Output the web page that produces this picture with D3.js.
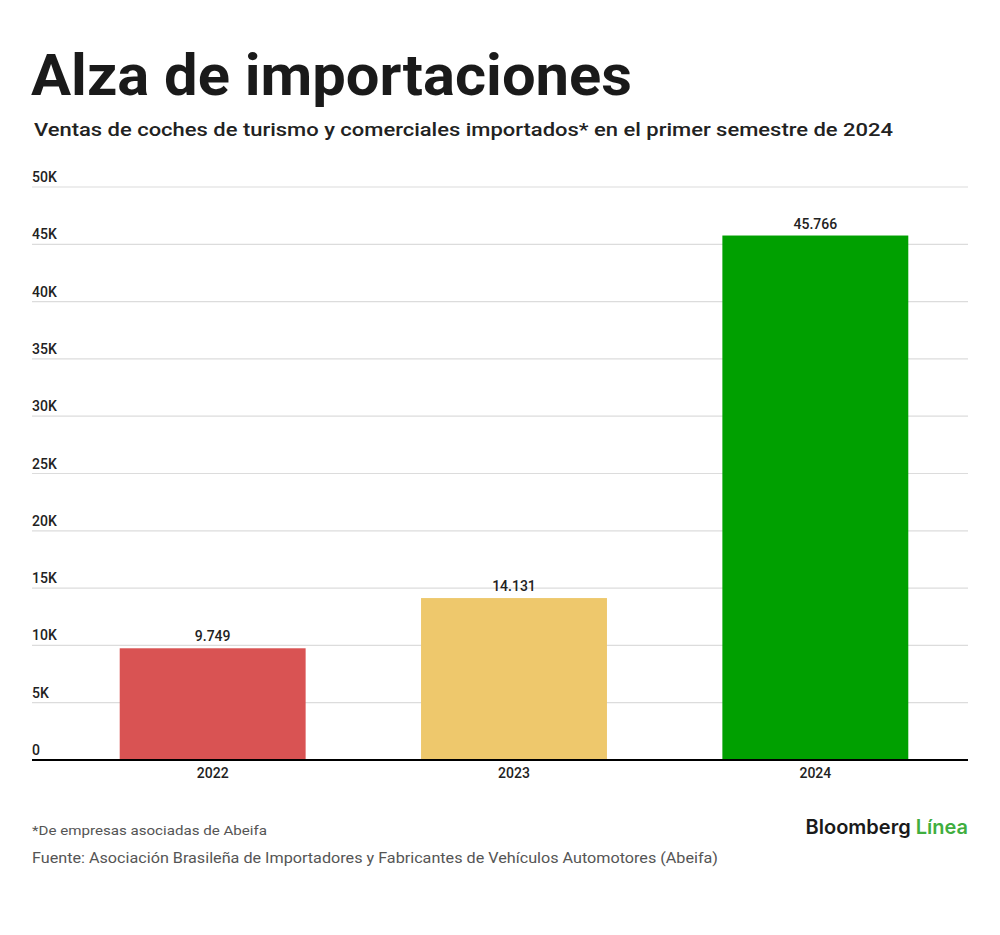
<!DOCTYPE html>
<html>
  <head>
    <meta charset="utf-8">
    <title>Alza de importaciones</title>
    <script src="https://cdn.jsdelivr.net/npm/d3@7"></script>
    <style>
      body { margin: 0; background: #fff; }
      text { font-family: "Roboto", "Liberation Sans", sans-serif; }
    </style>
  </head>
  <body>
<script>
// data
var years = ["2022", "2023", "2024"];
var ventas = [9749, 14131, 45766];
var etiquetas = ["9.749", "14.131", "45.766"];
var colores = ["#d95353", "#eec86c", "#00a000"];
var yTicks = [0, 5000, 10000, 15000, 20000, 25000, 30000, 35000, 40000, 45000, 50000];
var yTickLabels = ["0", "5K", "10K", "15K", "20K", "25K", "30K", "35K", "40K", "45K", "50K"];

var w = 1000, h = 935;
var plotLeft = 32, plotRight = 968, plotTop = 187, plotBottom = 760;

var svg = d3.select("body").append("svg")
  .attr("width", w)
  .attr("height", h);

// title + subtitle
svg.append("text")
  .attr("x", 31).attr("y", 95)
  .attr("font-size", 58).attr("font-weight", 700)
  .attr("fill", "#1a1a1a")
  .attr("textLength", 601).attr("lengthAdjust", "spacingAndGlyphs")
  .text("Alza de importaciones");

svg.append("text")
  .attr("x", 34).attr("y", 136)
  .attr("font-size", 19).attr("font-weight", 500)
  .attr("fill", "#222")
  .attr("textLength", 859).attr("lengthAdjust", "spacingAndGlyphs")
  .text("Ventas de coches de turismo y comerciales importados* en el primer semestre de 2024");

var x = d3.scaleBand()
  .domain(years)
  .range([62, 966])
  .paddingInner(0.383)
  .paddingOuter(0.1915);

var y = d3.scaleLinear()
  .domain([0, 50000])
  .range([plotBottom, plotTop]);

// gridlines
svg.append("g").selectAll("line")
  .data(yTicks.slice(1))
  .enter().append("line")
  .attr("x1", plotLeft).attr("x2", plotRight)
  .attr("y1", function(d) { return y(d); })
  .attr("y2", function(d) { return y(d); })
  .attr("stroke", "#dcdcdc")
  .attr("stroke-width", 1.2);

// tick labels
svg.append("g").selectAll("text")
  .data(yTicks)
  .enter().append("text")
  .attr("x", plotLeft)
  .attr("y", function(d) { return y(d) - 5; })
  .attr("font-size", 14).attr("font-weight", 500)
  .attr("fill", "#222")
  .text(function(d, i) { return yTickLabels[i]; });

// bars
svg.append("g").selectAll("rect")
  .data(ventas)
  .enter().append("rect")
  .attr("x", function(d, i) { return x(years[i]); })
  .attr("y", function(d) { return y(d); })
  .attr("width", x.bandwidth())
  .attr("height", function(d) { return y(0) - y(d); })
  .attr("fill", function(d, i) { return colores[i]; });

// value labels
svg.append("g").selectAll("text")
  .data(ventas)
  .enter().append("text")
  .attr("x", function(d, i) { return x(years[i]) + x.bandwidth() / 2; })
  .attr("y", function(d) { return y(d) - 7; })
  .attr("text-anchor", "middle")
  .attr("font-size", 14).attr("font-weight", 500)
  .attr("fill", "#222")
  .text(function(d, i) { return etiquetas[i]; });

// baseline
svg.append("line")
  .attr("x1", plotLeft).attr("x2", plotRight)
  .attr("y1", y(0)).attr("y2", y(0))
  .attr("stroke", "#000").attr("stroke-width", 2);

// x axis
var xAxis = d3.axisBottom(x).tickSize(0).tickPadding(8);
var gx = svg.append("g")
  .attr("transform", "translate(0," + y(0) + ")")
  .call(xAxis);
gx.select(".domain").remove();
gx.selectAll("text")
  .attr("font-size", 14).attr("font-weight", 500)
  .attr("fill", "#222")
  .style("font-family", "Roboto, sans-serif");

// footer
svg.append("text")
  .attr("x", 32).attr("y", 835)
  .attr("font-size", 13.5)
  .attr("fill", "#555")
  .attr("textLength", 235).attr("lengthAdjust", "spacingAndGlyphs")
  .text("*De empresas asociadas de Abeifa");

svg.append("text")
  .attr("x", 32).attr("y", 863)
  .attr("font-size", 14.5)
  .attr("fill", "#555")
  .attr("textLength", 686).attr("lengthAdjust", "spacingAndGlyphs")
  .text("Fuente: Asociación Brasileña de Importadores y Fabricantes de Vehículos Automotores (Abeifa)");

var logo = svg.append("text")
  .attr("x", 968).attr("y", 834)
  .attr("text-anchor", "end")
  .attr("font-size", 20).attr("font-weight", 600)
  .style("font-family", "Inter, Roboto, sans-serif");
logo.append("tspan").attr("fill", "#1a1a1a").text("Bloomberg ");
logo.append("tspan").attr("fill", "#3fae3f").text("Línea");
</script>
  </body>
</html>
